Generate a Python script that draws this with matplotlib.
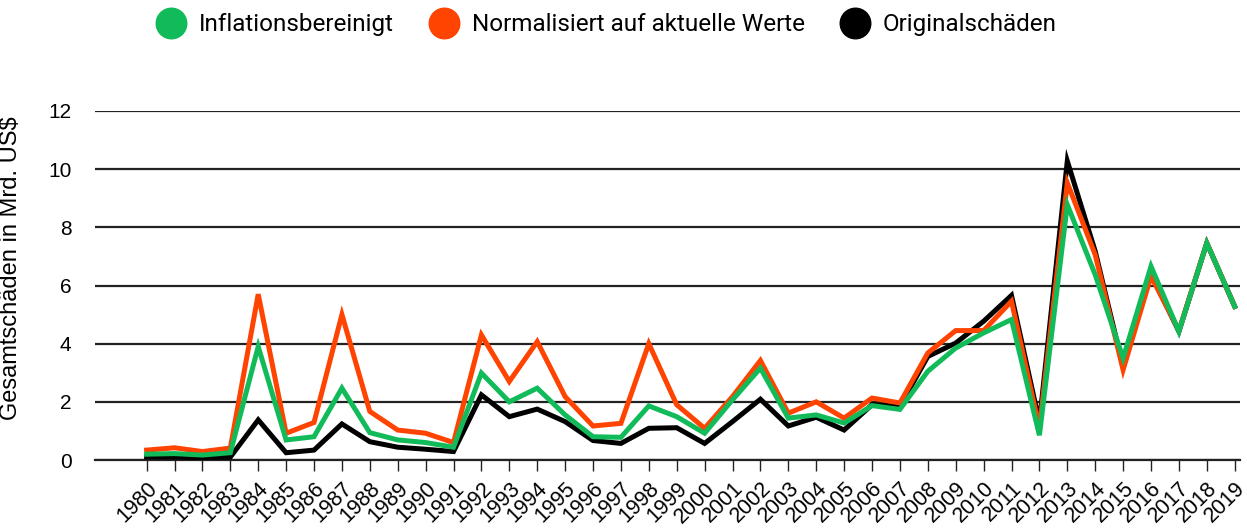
import matplotlib
matplotlib.use("Agg")
import matplotlib.pyplot as plt
from matplotlib.lines import Line2D

# Data, values in Mrd. US$
years = list(range(1980, 2020))

inflationsbereinigt = [0.20, 0.22, 0.17, 0.25, 3.90, 0.69, 0.80, 2.47, 0.94, 0.69,
                       0.60, 0.44, 2.99, 2.00, 2.47, 1.55, 0.80, 0.78, 1.86, 1.49,
                       0.92, 2.07, 3.16, 1.44, 1.55, 1.27, 1.87, 1.74, 3.05, 3.85,
                       4.37, 4.83, 0.85, 8.78, 6.37, 3.50, 6.66, 4.42, 7.46, 5.28]

normalisiert = [0.34, 0.42, 0.29, 0.41, 5.70, 0.92, 1.29, 5.00, 1.67, 1.03,
                0.92, 0.60, 4.30, 2.70, 4.07, 2.18, 1.17, 1.26, 4.00, 1.90,
                1.09, 2.18, 3.42, 1.61, 2.00, 1.44, 2.13, 1.96, 3.68, 4.45,
                4.45, 5.46, 1.10, 9.53, 7.06, 3.10, 6.32, 4.45, 7.46, 5.28]

original = [0.11, 0.10, 0.08, 0.10, 1.38, 0.25, 0.34, 1.24, 0.63, 0.44,
            0.37, 0.29, 2.24, 1.49, 1.75, 1.32, 0.67, 0.57, 1.09, 1.11,
            0.57, 1.32, 2.09, 1.17, 1.47, 1.03, 1.90, 1.85, 3.56, 4.02,
            4.77, 5.66, 1.30, 10.28, 7.18, 3.20, 6.40, 4.42, 7.46, 5.28]

series_labels = ["Inflationsbereinigt", "Normalisiert auf aktuelle Werte", "Originalschäden"]
col_green = "#12bb5a"
col_orange = "#ff4300"
col_black = "#000000"

plt.rcParams["font.family"] = ["Liberation Sans", "DejaVu Sans"]

fig = plt.figure(figsize=(12.47, 5.31), dpi=100)
ax = fig.add_axes([95 / 1247, 71 / 531, 1145 / 1247, 349 / 531])

# black first, green on top
ax.plot(years, original, color=col_black, lw=3.6, solid_joinstyle="miter", zorder=3)
ax.plot(years, normalisiert, color=col_orange, lw=3.6, solid_joinstyle="miter", zorder=4)
ax.plot(years, inflationsbereinigt, color=col_green, lw=3.6, solid_joinstyle="miter", zorder=5)

ax.set_xlim(1978.15, 2019.19)
ax.set_ylim(0, 12)
ax.set_yticks(range(0, 13, 2))
ax.yaxis.grid(True, color="#222222", lw=1.6)
ax.set_axisbelow(True)

for s in ["top", "right", "left"]:
    ax.spines[s].set_visible(False)
ax.spines["bottom"].set_color("#222222")
ax.spines["bottom"].set_linewidth(1.6)

ax.set_xticks(years)
ax.set_xticklabels([str(y) for y in years], rotation=45, ha="right",
                   rotation_mode="anchor", fontsize=15.5)
ax.tick_params(axis="x", length=8, width=1.0, color="#222222", pad=5)
ax.tick_params(axis="y", length=0, labelsize=15, pad=17)
ax.set_ylabel("Gesamtschäden in Mrd. US\\$", fontsize=17)
ax.yaxis.set_label_coords(-0.064, 0.55)

handles = [Line2D([], [], ls="", marker="o", ms=22, color=c)
           for c in (col_green, col_orange, col_black)]
fig.legend(handles, series_labels, loc="center", bbox_to_anchor=(606 / 1247, 0.953),
           ncol=3, frameon=False, handlelength=1.3, handletextpad=0.5,
           columnspacing=1.4, prop={"family": "Roboto", "size": 17.5})

fig.savefig("out.png", dpi=100)
